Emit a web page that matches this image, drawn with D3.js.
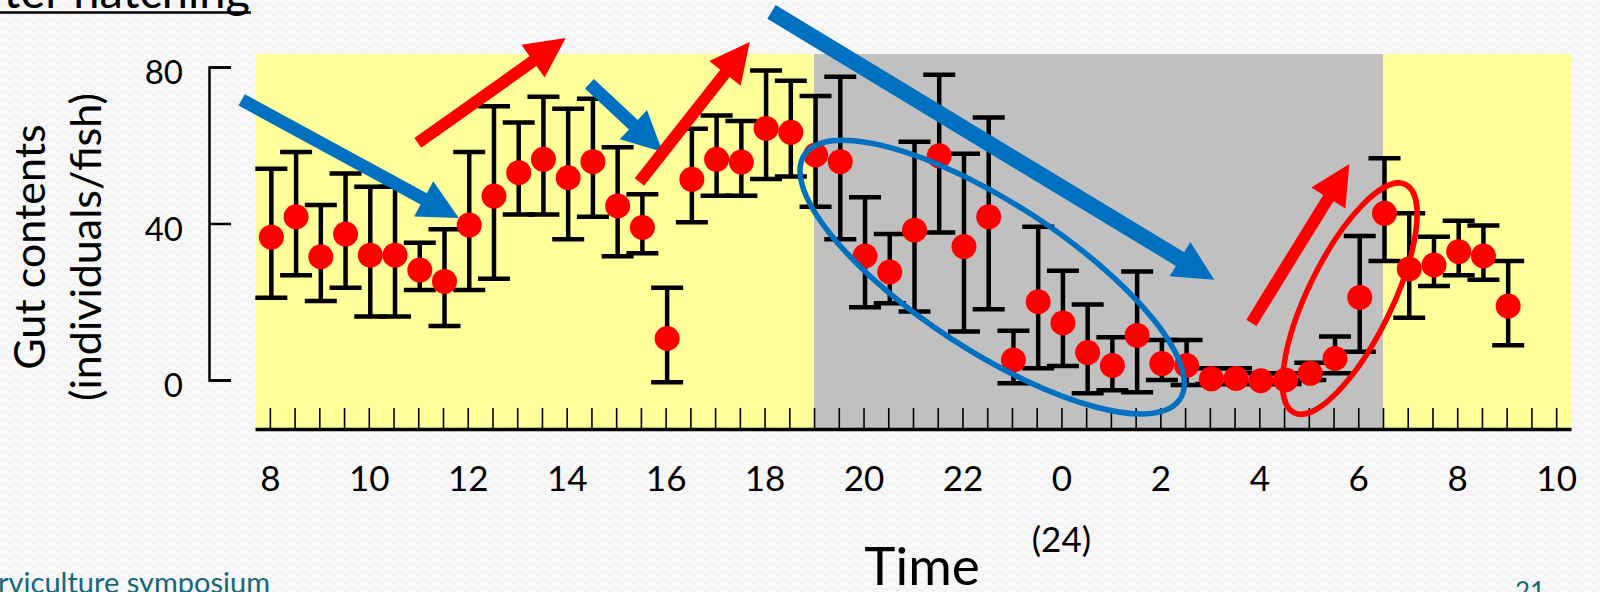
<!DOCTYPE html>
<html>
<head>
<meta charset="utf-8">
<script src="https://cdn.jsdelivr.net/npm/d3@7"></script>
<style>
  body { margin: 0; background: #f7f7f7; }
  svg { display: block; font-family: Lato, "Open Sans", sans-serif; }
</style>
</head>
<body>
<div id="root"></div>
<script>
// sampling times (hours after 0:00 of day 1), every half hour
const hours = [8, 8.5, 9, 9.5, 10, 10.5, 11, 11.5, 12, 12.5, 13, 13.5, 14, 14.5, 15, 15.5,
  16, 16.5, 17, 17.5, 18, 18.5, 19, 19.5, 20, 20.5, 21, 21.5, 22, 22.5, 23, 23.5,
  24, 24.5, 25, 25.5, 26, 26.5, 27, 27.5, 28, 28.5, 29, 29.5, 30, 30.5, 31, 31.5,
  32, 32.5, 33];
const means = [36.5, 41.7, 31.5, 37.3, 31.9, 31.9, 28.1, 25.2, 39.6, 47.0, 53.0, 56.4,
  51.7, 55.8, 44.5, 39.0, 10.6, 51.3, 56.4, 55.7, 64.3, 63.3, 57.5, 55.8, 31.7, 27.6,
  38.3, 57.3, 34.1, 41.7, 5.1, 20.0, 14.6, 7.0, 3.7, 11.4, 4.2, 3.7, 0.3, 0.4, -0.2,
  0, 1.7, 5.5, 21.1, 42.6, 28.4, 29.4, 32.8, 31.7, 18.9];
const upper = [54.0, 58.3, 44.7, 52.8, 49.4, 49.4, 35.1, 38.5, 58.3, 70.0, 65.8, 72.4,
  69.3, 71.9, 59.5, 47.5, 23.6, 64.2, 67.6, 66.2, 79.1, 76.5, 72.6, 77.5, 46.7, 37.3,
  60.9, 78.0, 57.8, 67.1, 12.6, 39.2, 27.9, 19.3, 10.9, 27.7, 10.2, 10.2, 3.0, 3.0, 1.7,
  1.7, 4.4, 11.1, 36.8, 56.7, 42.6, 36.6, 40.7, 39.5, 30.4];
const lower = [21.0, 26.8, 20.2, 23.6, 16.2, 16.2, 23.0, 13.8, 23.0, 25.9, 42.3, 42.3,
  36.0, 41.7, 31.6, 32.4, -0.6, 40.3, 47.1, 47.1, 51.4, 52.0, 44.3, 36.0, 18.6, 19.6,
  17.5, 37.7, 12.4, 18.1, -0.8, 3.0, 3.6, -3.4, -2.6, -3.1, 0.0, -1.3, -1.0, -1.0, -1.0,
  -1.0, 0, 1.7, 7.2, 30.4, 15.9, 24.0, 26.8, 25.6, 8.9];

const labelHours = [8, 10, 12, 14, 16, 18, 20, 22, 24, 26, 28, 30, 32, 34];
const tickLabels = ["8", "10", "12", "14", "16", "18", "20", "22", "0", "2", "4", "6", "8", "10"];
const minorTicks = [8, 8.5, 9, 9.5, 10, 10.5, 11, 11.5, 12, 12.5, 13, 13.5, 14, 14.5, 15,
  15.5, 16, 16.5, 17, 17.5, 18, 18.5, 19, 19.5, 20, 20.5, 21, 21.5, 22, 22.5, 23, 23.5,
  24, 24.5, 25, 25.5, 26, 26.5, 27, 27.5, 28, 28.5, 29, 29.5, 30, 30.5, 31, 31.5, 32,
  32.5, 33, 33.5, 34];
const yTicks = [0, 40, 80];

const panelHours = [7.7, 34.3];
const panelValues = [-12.5, 83.3];
const nightHours = [19, 30.5];

// hand drawn annotations, in data units (hour, value)
const blueArrows = [
  [7.43, 71.6, 11.82, 41.4, 13],
  [14.46, 75.7, 15.94, 58.3, 13],
  [18.14, 94.1, 27.09, 25.6, 16]
];
const redArrows = [
  [10.99, 60.6, 13.98, 87.4, 12],
  [15.47, 50.6, 17.70, 86.4, 12],
  [27.84, 14.6, 29.82, 55.2, 12]
];
const ellipses = [
  { h: 22.6, v: 26.3, rx: 224, ry: 74, angle: 33, color: "#0070c0" },
  { h: 29.83, v: 20.8, rx: 127, ry: 42, angle: -64, color: "#ff0000" }
];

const width = 1600;
const height = 592;

const x = d3.scaleLinear().domain([7.7, 34.3]).range([255, 1571]);
const y = d3.scaleLinear().domain([0, 80]).range([380, 67]);

const svg = d3.select("#root").append("svg")
  .attr("width", width)
  .attr("height", height);

// slide background texture
const pat = svg.append("defs").append("pattern")
  .attr("id", "wave")
  .attr("width", 12)
  .attr("height", 8)
  .attr("patternUnits", "userSpaceOnUse");
pat.append("rect").attr("width", 12).attr("height", 8).attr("fill", "#f8f8f8");
pat.append("path")
  .attr("d", "M0,5 Q3,1 6,5 T12,5")
  .attr("fill", "none")
  .attr("stroke", "#ececec")
  .attr("stroke-width", 1.2);
svg.append("rect").attr("width", width).attr("height", height).attr("fill", "url(#wave)");

// day / night panels
svg.append("rect")
  .attr("x", x(panelHours[0]))
  .attr("y", y(panelValues[1]))
  .attr("width", x(panelHours[1]) - x(panelHours[0]))
  .attr("height", y(panelValues[0]) - y(panelValues[1]))
  .attr("fill", "#ffff99");
svg.append("rect")
  .attr("x", x(nightHours[0]))
  .attr("y", y(panelValues[1]))
  .attr("width", x(nightHours[1]) - x(nightHours[0]))
  .attr("height", y(panelValues[0]) - y(panelValues[1]))
  .attr("fill", "#c0c0c0");

// x axis: half hour ticks pointing up
const axisY = y(panelValues[0]);
const xMinor = svg.append("g")
  .attr("transform", `translate(0,${axisY})`)
  .call(d3.axisBottom(x).tickValues(minorTicks).tickSize(-21).tickSizeOuter(0).tickFormat(""));
xMinor.select(".domain").attr("stroke", "#000").attr("stroke-width", 3.5);
xMinor.selectAll(".tick line").attr("stroke", "#000").attr("stroke-width", 1.6);

const xLabels = svg.append("g")
  .attr("transform", `translate(0,${axisY})`)
  .call(d3.axisBottom(x).tickValues(labelHours).tickSize(0).tickPadding(37)
    .tickFormat((d, i) => tickLabels[i]));
xLabels.select(".domain").remove();
xLabels.selectAll("text")
  .attr("font-family", "Lato, sans-serif")
  .attr("font-size", 35)
  .attr("fill", "#000");

// y axis: ticks pointing into the plot
const yAxis = svg.append("g")
  .attr("transform", "translate(209,0)")
  .call(d3.axisLeft(y).tickValues(yTicks).tickSize(-22).tickSizeOuter(-22).tickPadding(26));
yAxis.select(".domain").attr("stroke", "#000").attr("stroke-width", 2.5);
yAxis.selectAll(".tick line").attr("stroke", "#000").attr("stroke-width", 2.5);
yAxis.selectAll("text")
  .attr("font-family", "Lato, sans-serif")
  .attr("font-size", 33)
  .attr("dy", "0.5em")
  .attr("fill", "#000");

// error bars
const pts = hours.map((h, i) => ({ h: h, m: means[i], hi: upper[i], lo: lower[i] }));
const bars = svg.append("g").attr("stroke", "#000").attr("stroke-width", 4.5);
bars.selectAll("line.stem").data(pts).enter().append("line")
  .attr("x1", (d) => x(d.h) + 1.5).attr("x2", (d) => x(d.h) + 1.5)
  .attr("y1", (d) => y(d.hi)).attr("y2", (d) => y(d.lo));
bars.selectAll("line.top").data(pts).enter().append("line")
  .attr("x1", (d) => x(d.h) + 1.5 - 16).attr("x2", (d) => x(d.h) + 1.5 + 16)
  .attr("y1", (d) => y(d.hi)).attr("y2", (d) => y(d.hi));
bars.selectAll("line.bot").data(pts).enter().append("line")
  .attr("x1", (d) => x(d.h) + 1.5 - 16).attr("x2", (d) => x(d.h) + 1.5 + 16)
  .attr("y1", (d) => y(d.lo)).attr("y2", (d) => y(d.lo));

// means
svg.append("g").selectAll("circle").data(pts).enter().append("circle")
  .attr("cx", (d) => x(d.h) + 1.5)
  .attr("cy", (d) => y(d.m))
  .attr("r", 12.5)
  .attr("fill", "#ff0000");

// ellipses
svg.append("g").selectAll("ellipse").data(ellipses).enter().append("ellipse")
  .attr("transform", (d) => `translate(${x(d.h)},${y(d.v)}) rotate(${d.angle})`)
  .attr("rx", (d) => d.rx)
  .attr("ry", (d) => d.ry)
  .attr("fill", "none")
  .attr("stroke", (d) => d.color)
  .attr("stroke-width", 5.5);

// block arrows
const arrowPoints = (a) => {
  const x1 = x(a[0]), y1 = y(a[1]), x2 = x(a[2]), y2 = y(a[3]);
  const w = a[4], hl = 40, hw = 40;
  const len = Math.hypot(x2 - x1, y2 - y1);
  const ux = (x2 - x1) / len, uy = (y2 - y1) / len;
  const nx = -uy, ny = ux;
  const bx = x2 - ux * hl, by = y2 - uy * hl;
  return [
    [x1 + nx * w / 2, y1 + ny * w / 2],
    [bx + nx * w / 2, by + ny * w / 2],
    [bx + nx * hw / 2, by + ny * hw / 2],
    [x2, y2],
    [bx - nx * hw / 2, by - ny * hw / 2],
    [bx - nx * w / 2, by - ny * w / 2],
    [x1 - nx * w / 2, y1 - ny * w / 2]
  ].map((p) => p.join(",")).join(" ");
};
svg.append("g").selectAll("polygon").data(blueArrows).enter().append("polygon")
  .attr("points", arrowPoints).attr("fill", "#0070c0");
svg.append("g").selectAll("polygon").data(redArrows).enter().append("polygon")
  .attr("points", arrowPoints).attr("fill", "#ff0000");

// texts
const ylab = svg.append("g").attr("transform", "translate(0,247) rotate(-90)")
  .attr("text-anchor", "middle").attr("font-size", 43).attr("fill", "#000");
ylab.append("text").attr("x", 0).attr("y", 45).text("Gut contents");
ylab.append("text").attr("x", 0).attr("y", 101).text("(individuals/fish)");

svg.append("text").attr("x", x(24)).attr("y", 552)
  .attr("text-anchor", "middle").attr("font-size", 35).text("(24)");
svg.append("text").attr("x", 922).attr("y", 585)
  .attr("text-anchor", "middle").attr("font-size", 53).text("Time");

svg.append("text").attr("x", 250).attr("y", 8)
  .attr("text-anchor", "end").attr("font-size", 47).text("After hatching");
svg.append("line").attr("x1", 0).attr("x2", 251).attr("y1", 12.5).attr("y2", 12.5)
  .attr("stroke", "#000").attr("stroke-width", 2.5);

svg.append("text").attr("x", 270).attr("y", 593)
  .attr("text-anchor", "end").attr("font-size", 29).attr("fill", "#17667a")
  .text("Larviculture symposium");
svg.append("text").attr("x", 1530).attr("y", 601)
  .attr("text-anchor", "middle").attr("font-size", 26).attr("fill", "#17667a")
  .text("21");
</script>
</body>
</html>
